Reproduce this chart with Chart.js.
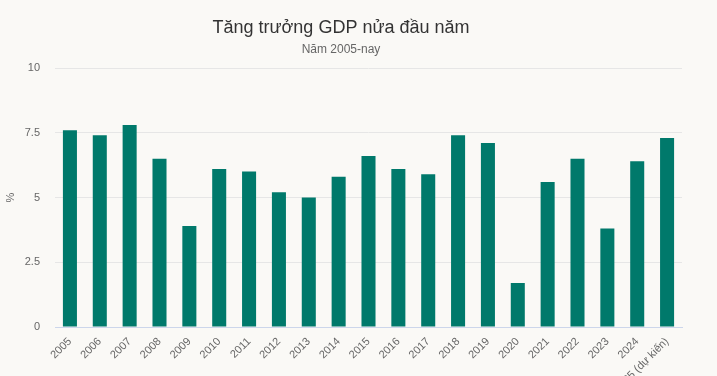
<!DOCTYPE html>
<html>
<head>
<meta charset="utf-8">
<script src="https://cdn.jsdelivr.net/npm/chart.js@4/dist/chart.umd.min.js"></script>
<style>
  html, body { margin: 0; padding: 0; background: #faf9f6; overflow: hidden; }
  #wrap { width: 717px; height: 376px; position: relative; }
</style>
</head>
<body>
<div id="wrap"><canvas id="c" width="717" height="376"></canvas></div>
<script>
const categories = ["2005","2006","2007","2008","2009","2010","2011","2012","2013","2014","2015","2016","2017","2018","2019","2020","2021","2022","2023","2024","2025 (dự kiến)"];
const gdpGrowth = [7.6, 7.4, 7.8, 6.5, 3.9, 6.1, 6.0, 5.2, 5.0, 5.8, 6.6, 6.1, 5.9, 7.4, 7.1, 1.7, 5.6, 6.5, 3.8, 6.4, 7.3];
const yTicks = [0, 2.5, 5, 7.5, 10];
const titleText = "Tăng trưởng GDP nửa đầu năm";
const subtitleText = "Năm 2005-nay";
const yTitle = "%";

const FONT = "'Liberation Sans', Arial, Helvetica, sans-serif";

new Chart(document.getElementById('c'), {
  type: 'bar',
  data: {
    labels: categories,
    datasets: [{
      data: gdpGrowth,
      backgroundColor: '#00796b',
      borderWidth: 0,
      barPercentage: 0.47,
      categoryPercentage: 1
    }]
  },
  options: {
    responsive: false,
    animation: false,
    layout: { padding: { left: 0, right: 35, top: 0, bottom: 0 } },
    plugins: {
      legend: { display: false },
      tooltip: { enabled: false },
      title: {
        display: true,
        text: titleText,
        color: '#333333',
        font: { family: FONT, size: 18, weight: 'normal' },
        padding: { top: 17, bottom: 4 }
      },
      subtitle: {
        display: true,
        text: subtitleText,
        color: '#666666',
        font: { family: FONT, size: 12, weight: 'normal' },
        padding: { top: 0, bottom: 11 }
      }
    },
    scales: {
      x: {
        grid: { display: false, drawTicks: false },
        border: { display: true, color: '#ccd6eb', width: 1 },
        ticks: {
          autoSkip: false,
          maxRotation: 45,
          minRotation: 45,
          padding: 8,
          color: '#666666',
          font: { family: FONT, size: 11 }
        },
        afterFit: (s) => { s.height = 49; }
      },
      y: {
        min: 0,
        max: 10,
        afterBuildTicks: (s) => { s.ticks = yTicks.map(v => ({ value: v })); },
        grid: { color: '#e6e6e6', drawTicks: false, lineWidth: 1 },
        border: { display: false },
        ticks: {
          padding: 15,
          color: '#666666',
          font: { family: FONT, size: 11 },
          callback: (v) => String(v)
        },
        title: {
          display: true,
          text: yTitle,
          color: '#666666',
          font: { family: FONT, size: 11 },
          padding: { top: 4, bottom: 0 }
        },
        afterFit: (s) => { s.width = 55; }
      }
    }
  }
});
</script>
</body>
</html>
